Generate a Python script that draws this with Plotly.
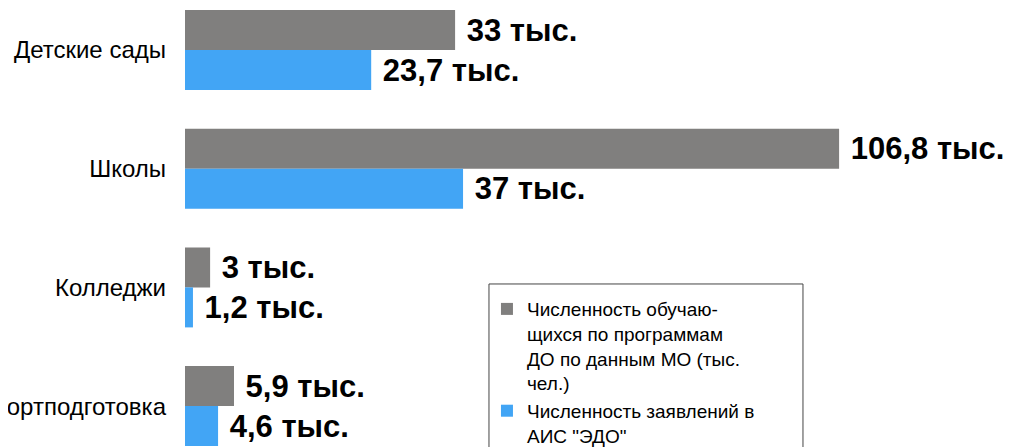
import plotly.graph_objects as go

# Categories (top to bottom)
categories = ["Детские сады", "Школы", "Колледжи", "Спортподготовка"]

# Series names
series_mo_name = "Численность обучаю-<br>щихся по программам<br>ДО по данным МО (тыс.<br>чел.)"
series_edo_name = "Численность заявлений в<br>АИС \"ЭДО\""

# Bar lengths as drawn in the picture (scaled to the 106,8 bar)
values_mo = [44.1, 106.8, 4.1, 8.0]
values_edo = [30.4, 45.4, 1.3, 5.4]

# Value labels as printed on the chart
labels_mo = ["33 тыс.", "106,8 тыс.", "3 тыс.", "5,9 тыс."]
labels_edo = ["23,7 тыс.", "37 тыс.", "1,2 тыс.", "4,6 тыс."]

GRAY = "#807f7e"
BLUE = "#42a5f5"
FONT = "Liberation Sans, Arial, sans-serif"

fig = go.Figure()
fig.add_trace(go.Bar(
    name=series_mo_name, y=categories, x=values_mo, orientation="h",
    marker=dict(color=GRAY, line=dict(width=0)),
    text=["\u00a0" + t for t in labels_mo], textposition="outside",
    textfont=dict(family=FONT, size=31, color="#000000", weight="bold"),
    cliponaxis=False, constraintext="none", hoverinfo="skip",
))
fig.add_trace(go.Bar(
    name=series_edo_name, y=categories, x=values_edo, orientation="h",
    marker=dict(color=BLUE, line=dict(width=0)),
    text=["\u00a0" + t for t in labels_edo], textposition="outside",
    textfont=dict(family=FONT, size=31, color="#000000", weight="bold"),
    cliponaxis=False, constraintext="none", hoverinfo="skip",
))

# legend frame
fig.add_shape(
    type="rect", xref="paper", yref="paper",
    x0=0.3636, x1=0.7392, y0=-0.2, y1=0.3826,
    fillcolor="white", line=dict(color="#444444", width=1), layer="above",
)

fig.update_layout(
    width=1013, height=447,
    margin=dict(l=177, r=0, t=0, b=0, autoexpand=False),
    paper_bgcolor="white", plot_bgcolor="white",
    barmode="group", bargap=0.326, bargroupgap=0,
    font=dict(family=FONT, color="#000000"),
    showlegend=True,
    legend=dict(
        x=0.3612, y=0.369, xanchor="left", yanchor="top",
        bgcolor="rgba(0,0,0,0)", borderwidth=0,
        font=dict(family=FONT, size=19, color="#000000"),
        valign="top", traceorder="normal", tracegroupgap=0,
    ),
    xaxis=dict(range=[0, 136.5], visible=False, showgrid=False, zeroline=False),
    yaxis=dict(
        type="category", range=[3.412, -0.354], automargin=False,
        showgrid=False, zeroline=False, showline=False, ticks="",
        ticklabelstandoff=18,
        tickfont=dict(family=FONT, size=24, color="#000000"),
    ),
)

fig.write_html("out.html")
